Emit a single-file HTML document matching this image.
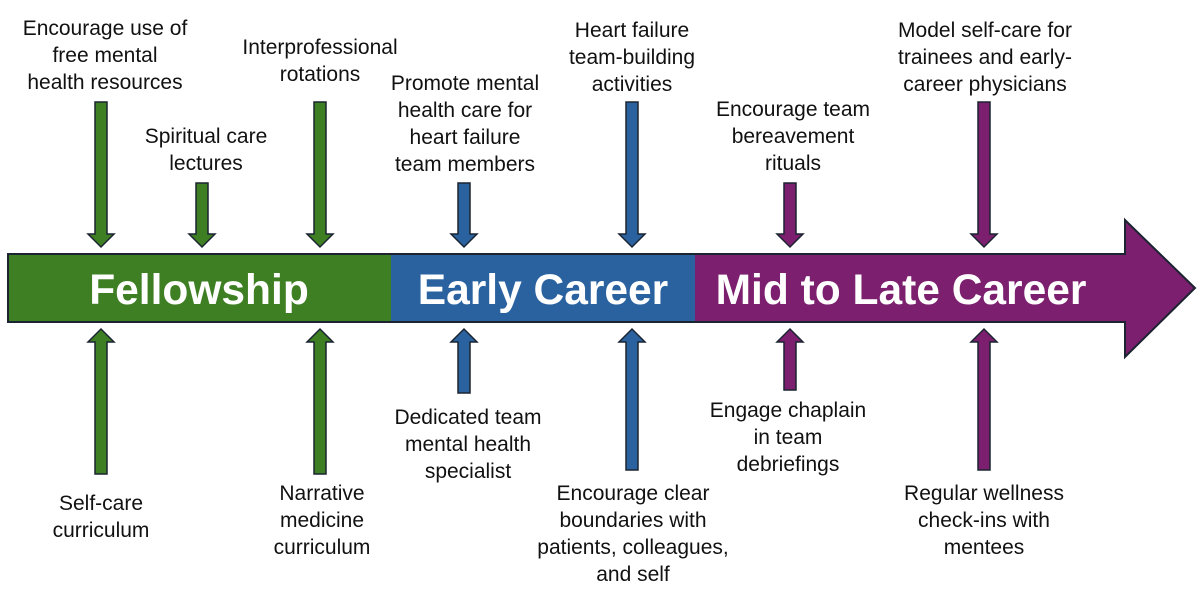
<!DOCTYPE html>
<html><head><meta charset="utf-8"><style>
body{margin:0;width:1200px;height:596px;background:#fff;position:relative;overflow:hidden;font-family:"Liberation Sans",sans-serif;}
.l{position:absolute;width:280px;margin-left:-140px;text-align:center;font-size:21px;line-height:27px;color:#111;}
svg{position:absolute;left:0;top:0;}
.t{font-family:"Liberation Sans",sans-serif;font-weight:bold;font-size:42.5px;fill:#fff;text-anchor:middle;}
</style></head><body>
<svg width="1200" height="596">
<g stroke="#1b2430" stroke-width="2" stroke-linejoin="miter">
<rect x="8" y="254" width="384" height="68" fill="#3f7f24"/>
<rect x="392" y="254" width="304" height="68" fill="#2a62a0"/>
<path d="M696 254 H1125 V220 L1195 288 L1125 357 V322 H696 Z" fill="#7b1f6e"/>
</g>
<rect x="391" y="255" width="2" height="66" fill="#2a62a0"/>
<rect x="695" y="255" width="2" height="66" fill="#7b1f6e"/>
<text class="t" x="199" y="304">Fellowship</text>
<text class="t" x="543" y="304">Early Career</text>
<text class="t" x="901" y="304">Mid to Late Career</text>
<g stroke="#1b2430" stroke-width="1.5">
<path fill="#3f7f24" d="M95 102 H107 V234 H114 L101 247 L88 234 H95 Z"/>
<path fill="#3f7f24" d="M196 183 H208 V234 H215 L202 247 L189 234 H196 Z"/>
<path fill="#3f7f24" d="M314 102 H326 V234 H333 L320 247 L307 234 H314 Z"/>
<path fill="#2a62a0" d="M458 183 H470 V234 H477 L464 247 L451 234 H458 Z"/>
<path fill="#2a62a0" d="M626 102 H638 V234 H645 L632 247 L619 234 H626 Z"/>
<path fill="#7b1f6e" d="M784 183 H796 V234 H803 L790 247 L777 234 H784 Z"/>
<path fill="#7b1f6e" d="M978 102 H990 V234 H997 L984 247 L971 234 H978 Z"/>
<path fill="#3f7f24" d="M95 474 H107 V342 H114 L101 329 L88 342 H95 Z"/>
<path fill="#3f7f24" d="M314 474 H326 V342 H333 L320 329 L307 342 H314 Z"/>
<path fill="#2a62a0" d="M458 393 H470 V342 H477 L464 329 L451 342 H458 Z"/>
<path fill="#2a62a0" d="M626 470 H638 V342 H645 L632 329 L619 342 H626 Z"/>
<path fill="#7b1f6e" d="M784 390 H796 V342 H803 L790 329 L777 342 H784 Z"/>
<path fill="#7b1f6e" d="M978 470 H990 V342 H997 L984 329 L971 342 H978 Z"/>
</g>
</svg>
<div class="l" style="left:105px;top:15px">Encourage use of<br>free mental<br>health resources</div>
<div class="l" style="left:206px;top:123px">Spiritual care<br>lectures</div>
<div class="l" style="left:320px;top:34px">Interprofessional<br>rotations</div>
<div class="l" style="left:465px;top:70px">Promote mental<br>health care for<br>heart failure<br>team members</div>
<div class="l" style="left:632px;top:17px">Heart failure<br>team-building<br>activities</div>
<div class="l" style="left:793px;top:96px">Encourage team<br>bereavement<br>rituals</div>
<div class="l" style="left:985px;top:17px">Model self-care for<br>trainees and early-<br>career physicians</div>
<div class="l" style="left:101px;top:490px">Self-care<br>curriculum</div>
<div class="l" style="left:322px;top:480px">Narrative<br>medicine<br>curriculum</div>
<div class="l" style="left:468px;top:404px">Dedicated team<br>mental health<br>specialist</div>
<div class="l" style="left:633px;top:480px">Encourage clear<br>boundaries with<br>patients, colleagues,<br>and self</div>
<div class="l" style="left:788px;top:397px">Engage chaplain<br>in team<br>debriefings</div>
<div class="l" style="left:984px;top:480px">Regular wellness<br>check-ins with<br>mentees</div>
</body></html>
